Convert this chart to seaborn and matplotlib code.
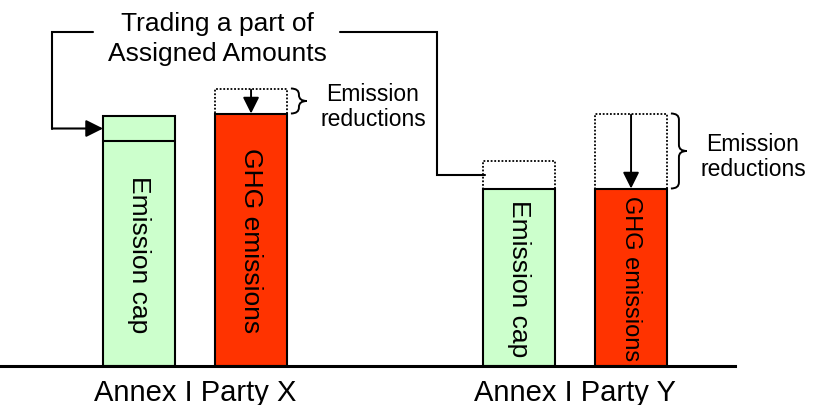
import matplotlib
matplotlib.use("Agg")
import matplotlib.pyplot as plt
import seaborn as sns
import pandas as pd
from matplotlib.path import Path
from matplotlib.patches import PathPatch, Rectangle

# ---------------- data ----------------
parties = ["Annex I Party X", "Annex I Party Y"]
kinds = ["Emission cap", "GHG emissions"]
cap_initial = [90, 82]          # cap before trading
cap_after_trade = [100, 71]     # cap after trading assigned amounts
emissions_before = [111, 101]   # emissions before reductions
emissions_after = [101, 71]     # emissions after reductions
title_text = "Trading a part of\nAssigned Amounts"
reduction_text = "Emission\nreductions"

# ---------------- style ----------------
GREEN = "#CCFFCC"
RED = "#FF3300"
sns.set_theme(style="white")
plt.rcParams["font.family"] = ["Liberation Sans", "DejaVu Sans"]

W, H = 823, 406
BASE_PX = 39        # baseline height from bottom in px
AX_W_PX = 735       # baseline length
X0_PX = 195         # pixel position of first group
UNIT_X_PX = 380     # px per group
UNIT_Y_PX = 2.5     # px per value unit

fig = plt.figure(figsize=(W / 100, H / 100), dpi=100)
ax = fig.add_axes([0, BASE_PX / H, AX_W_PX / W, (H - BASE_PX) / H])

rows = []
for i, p in enumerate(parties):
    rows.append({"party": p, "kind": kinds[0], "value": cap_after_trade[i]})
    rows.append({"party": p, "kind": kinds[1], "value": emissions_after[i]})
df = pd.DataFrame(rows)

sns.barplot(data=df, x="party", y="value", hue="kind", order=parties,
            hue_order=kinds, palette=[GREEN, RED], saturation=1,
            width=0.59, gap=0.36, edgecolor="black", linewidth=1.5,
            errorbar=None, legend=False, ax=ax)

ax.set_xlim(-X0_PX / UNIT_X_PX, (AX_W_PX - X0_PX) / UNIT_X_PX)
ax.set_ylim(0, (H - BASE_PX) / UNIT_Y_PX)
px_x = 1 / UNIT_X_PX
px_y = 1 / UNIT_Y_PX

for s in ["left", "top", "right"]:
    ax.spines[s].set_visible(False)
ax.spines["bottom"].set_linewidth(2.2)
ax.spines["bottom"].set_color("black")
ax.set_yticks([])
ax.set_xlabel("")
ax.set_ylabel("")
ax.tick_params(axis="x", length=0, labelsize=21, pad=8.5, colors="black")

bars = sorted([p for p in ax.patches if isinstance(p, Rectangle) and p.get_height() > 0],
              key=lambda p: p.get_x())

bar_font = [[19, 19], [19, 17]]


def brace(x0, x1, yb, yt, lw=1.4):
    xm = (x0 + x1) / 2
    ym = (yb + yt) / 2
    r = min((yt - yb) / 4, 6 * px_y)
    verts = [(x0, yt), (xm, yt), (xm, yt - r), (xm, ym + r), (xm, ym), (x1, ym),
             (xm, ym), (xm, ym - r), (xm, yb + r), (xm, yb), (x0, yb)]
    codes = [Path.MOVETO, Path.CURVE3, Path.CURVE3, Path.LINETO, Path.CURVE3, Path.CURVE3,
             Path.CURVE3, Path.CURVE3, Path.LINETO, Path.CURVE3, Path.CURVE3]
    ax.add_patch(PathPatch(Path(verts, codes), fill=False, lw=lw, color="black", clip_on=False))


for i in range(len(parties)):
    cb = bars[2 * i]
    gb = bars[2 * i + 1]
    cx = cb.get_x() + cb.get_width() / 2
    gx = gb.get_x() + gb.get_width() / 2

    # cap bar annotations
    if cap_after_trade[i] > cap_initial[i]:
        ax.plot([cb.get_x(), cb.get_x() + cb.get_width()], [cap_initial[i]] * 2,
                color="black", lw=1.5)
    else:
        ax.add_patch(Rectangle((cb.get_x(), cap_after_trade[i]), cb.get_width(),
                               cap_initial[i] - cap_after_trade[i], fill=False,
                               ls=(0, (1, 1)), lw=1.3, ec="black"))
    ax.text(cx, min(cap_initial[i], cap_after_trade[i]) / 2, kinds[0], rotation=-90,
            ha="center", va="center", fontsize=bar_font[i][0], color="black")

    # emission bar annotations
    ax.add_patch(Rectangle((gb.get_x(), emissions_after[i]), gb.get_width(),
                           emissions_before[i] - emissions_after[i], fill=False,
                           ls=(0, (1, 1)), lw=1.3, ec="black"))
    ax.annotate("", xy=(gx, emissions_after[i]), xytext=(gx, emissions_before[i] - 0.5),
                arrowprops=dict(arrowstyle="-|>,head_width=0.35,head_length=0.7",
                                mutation_scale=14, color="black", lw=1.4,
                                shrinkA=0, shrinkB=0))
    ax.text(gx, emissions_after[i] / 2, kinds[1], rotation=-90,
            ha="center", va="center", fontsize=bar_font[i][1], color="black")

    right = gb.get_x() + gb.get_width()
    brace(right + 4 * px_x, right + 20 * px_x, emissions_after[i], emissions_before[i])
    ax.text(right + 86 * px_x, (emissions_after[i] + emissions_before[i]) / 2 - 5 * px_y,
            reduction_text, ha="center", va="center", fontsize=16.5, linespacing=1.15,
            color="black", clip_on=False)

# title and connector lines
top_y = (H - BASE_PX - 33) * px_y
title_x = (217 - X0_PX) * px_x
ax.text(title_x, (H - BASE_PX - 39) * px_y, title_text, ha="center", va="center",
        fontsize=19, linespacing=1.32, color="black")

cbx = bars[0]
lx = cbx.get_x() - 51 * px_x
ymid_x = (cap_initial[0] + cap_after_trade[0]) / 2
ax.plot([title_x - 124 * px_x, lx, lx], [top_y, top_y, ymid_x], color="black", lw=1.5,
        solid_joinstyle="miter", clip_on=False)
ax.annotate("", xy=(cbx.get_x(), ymid_x), xytext=(lx, ymid_x),
            arrowprops=dict(arrowstyle="-|>,head_width=0.4,head_length=0.8",
                            mutation_scale=13, color="black", lw=1.5,
                            shrinkA=0, shrinkB=0))

cby = bars[2]
rx = cby.get_x() - 46 * px_x
ymid_y = (cap_initial[1] + cap_after_trade[1]) / 2
ax.plot([title_x + 123 * px_x, rx, rx, cby.get_x() + 2 * px_x],
        [top_y, top_y, ymid_y, ymid_y], color="black", lw=1.5,
        solid_joinstyle="miter", clip_on=False)

fig.savefig("out.png", dpi=100)
